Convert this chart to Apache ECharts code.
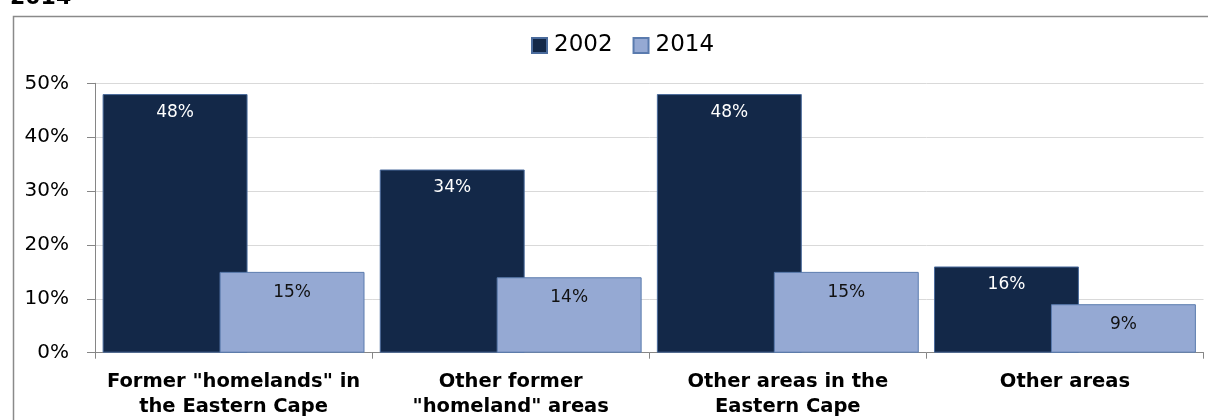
<!DOCTYPE html>
<html>
<head>
<meta charset="utf-8">
<script src="https://cdn.jsdelivr.net/npm/echarts@6/dist/echarts.min.js"></script>
<style>
  html, body { margin: 0; padding: 0; background: #fff; }
  #chart { width: 1208px; height: 420px; }
</style>
</head>
<body>
<div id="chart"></div>
<script>
// Share of households by area type, 2002 vs 2014
const categories = [
  'Former "homelands" in\nthe Eastern Cape',
  'Other former\n"homeland" areas',
  'Other areas in the\nEastern Cape',
  'Other areas'
];
const seriesNames = ['2002', '2014'];
const values2002 = [48, 34, 48, 16];
const values2014 = [15, 14, 15, 9];
const yTicks = { min: 0, max: 50, step: 10 };

const FONT = 'DejaVu Sans';
const chart = echarts.init(document.getElementById('chart'), null, { renderer: 'canvas' });

chart.setOption({
  animation: false,
  backgroundColor: '#ffffff',
  textStyle: { fontFamily: FONT },
  graphic: [
    {
      type: 'rect',
      shape: { x: 13.5, y: 16.5, width: 1300, height: 500 },
      style: { fill: 'none', stroke: '#8a8a8a', lineWidth: 1.5 },
      silent: true
    },
    {
      // heading line above the frame, only its lower edge falls inside the page
      type: 'text',
      x: 10, y: -13,
      style: {
        text: '2014',
        font: 'bold 22px "DejaVu Sans"',
        fill: '#000'
      },
      silent: true
    }
  ],
  legend: {
    data: seriesNames,
    left: 526,
    top: 29,
    itemWidth: 15,
    itemHeight: 15,
    itemGap: 20,
    icon: 'rect',
    textStyle: { fontFamily: FONT, fontSize: 23, color: '#000', padding: [0, 0, 0, 2] }
  },
  grid: { left: 95, right: 4.5, top: 83.3, bottom: 67.3, containLabel: false },
  xAxis: {
    type: 'category',
    data: categories,
    axisLine: { lineStyle: { color: '#868686', width: 1 } },
    axisTick: { show: true, length: 6, alignWithLabel: false, lineStyle: { color: '#868686' } },
    axisLabel: {
      interval: 0,
      margin: 17,
      fontFamily: FONT,
      fontWeight: 'bold',
      fontSize: 19.5,
      lineHeight: 25,
      color: '#000'
    }
  },
  yAxis: {
    type: 'value',
    min: yTicks.min,
    max: yTicks.max,
    interval: yTicks.step,
    axisLine: { show: true, lineStyle: { color: '#868686', width: 1 } },
    axisTick: { show: true, length: 8, inside: false, lineStyle: { color: '#868686' } },
    axisLabel: {
      formatter: '{value}%',
      margin: 26,
      fontFamily: FONT,
      fontSize: 20,
      color: '#000'
    },
    splitLine: { lineStyle: { color: '#d9d9d9', width: 1 } }
  },
  series: [
    {
      name: seriesNames[0],
      type: 'bar',
      data: values2002,
      barWidth: '52.3%',
      barGap: '-19.3%',
      itemStyle: { color: '#132848', borderColor: '#4a6b9c', borderWidth: 1 },
      label: {
        show: true,
        position: 'insideTop',
        distance: 10,
        formatter: '{c}%',
        fontFamily: FONT,
        fontSize: 17,
        color: '#ffffff'
      }
    },
    {
      name: seriesNames[1],
      type: 'bar',
      data: values2014,
      barWidth: '52.3%',
      barGap: '-19.3%',
      itemStyle: { color: '#95a9d3', borderColor: '#5a7bae', borderWidth: 1 },
      label: {
        show: true,
        position: 'insideTop',
        distance: 12,
        formatter: '{c}%',
        fontFamily: FONT,
        fontSize: 17,
        color: '#111111'
      }
    }
  ]
});
</script>
</body>
</html>
